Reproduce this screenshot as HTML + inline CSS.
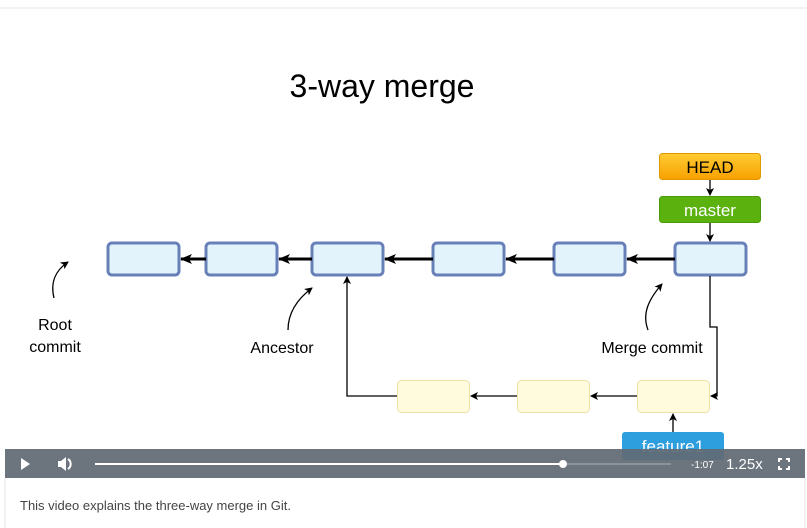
<!DOCTYPE html>
<html><head><style>
body{margin:0;width:807px;height:528px;background:#fff;font-family:"Liberation Sans",sans-serif;overflow:hidden;position:relative}
.cap{position:absolute;left:20px;top:498px;font-size:13px;color:#444;font-family:"Liberation Sans",sans-serif}
</style></head><body>
<svg width="807" height="528" style="position:absolute;left:0;top:0">
<defs>
<marker id="a" markerWidth="8" markerHeight="8" refX="7" refY="4" orient="auto" markerUnits="userSpaceOnUse"><path d="M0,0 L8,4 L0,8 L2,4z" fill="#000"/></marker>
<marker id="b" markerWidth="12" markerHeight="10" refX="11" refY="5" orient="auto" markerUnits="userSpaceOnUse"><path d="M0,0 L12,5 L0,10 L3,5z" fill="#000"/></marker>
<linearGradient id="h" x1="0" y1="0" x2="0" y2="1"><stop offset="0" stop-color="#ffcc33"/><stop offset="1" stop-color="#f7a000"/></linearGradient>
</defs>
<line x1="0" y1="8" x2="807" y2="8" stroke="#e6e6e6"/>
<line x1="5" y1="478" x2="5" y2="528" stroke="#e6e6e6"/>
<line x1="805" y1="478" x2="805" y2="528" stroke="#e6e6e6"/>
<text x="382" y="97" font-size="32" text-anchor="middle" fill="#000">3-way merge</text>
<g fill="#e3f3fc" stroke="#6880b8" stroke-width="3">
<rect x="108" y="243" width="71" height="32" rx="4"/>
<rect x="206" y="243" width="71" height="32" rx="4"/>
<rect x="312" y="243" width="71" height="32" rx="4"/>
<rect x="433" y="243" width="71" height="32" rx="4"/>
<rect x="554" y="243" width="71" height="32" rx="4"/>
<rect x="675" y="243" width="71" height="32" rx="4"/>
</g>
<g stroke="#000" stroke-width="3" marker-end="url(#b)">
<line x1="206" y1="259" x2="181" y2="259"/>
<line x1="312" y1="259" x2="279" y2="259"/>
<line x1="433" y1="259" x2="385" y2="259"/>
<line x1="554" y1="259" x2="506" y2="259"/>
<line x1="675" y1="259" x2="627" y2="259"/>
</g>
<g fill="#fffbdc" stroke="#ece2a8" stroke-width="1">
<rect x="397.5" y="380.5" width="72" height="32" rx="4"/>
<rect x="517.5" y="380.5" width="72" height="32" rx="4"/>
<rect x="637.5" y="380.5" width="72" height="32" rx="4"/>
</g>
<g stroke="#000" stroke-width="1.3" fill="none" marker-end="url(#a)">
<line x1="637" y1="396" x2="591" y2="396"/>
<line x1="517" y1="396" x2="471" y2="396"/>
<polyline points="397,396 347,396 347,277"/>
<polyline points="710,276 710,327 717,327 717,396 711,396"/>
<line x1="673" y1="432" x2="673" y2="414"/>
<line x1="710" y1="180" x2="710" y2="195"/>
<line x1="710" y1="223" x2="710" y2="241"/>
<path d="M54,298 C50,282 56,270 68,262"/>
<path d="M288,330 C288,314 296,300 312,288"/>
<path d="M648,330 C642,314 648,300 662,284"/>
</g>
<rect x="659.5" y="153.5" width="101" height="26" rx="3" fill="url(#h)" stroke="#e09800"/>
<text x="710" y="173" font-size="17" text-anchor="middle">HEAD</text>
<rect x="659.5" y="196.5" width="101" height="26" rx="3" fill="#5bb20f" stroke="#4a9a0a"/>
<text x="710" y="216" font-size="17" text-anchor="middle" fill="#fff">master</text>
<rect x="622" y="432" width="102" height="28" rx="3" fill="#2d9fdf"/>
<text x="673" y="452" font-size="17" text-anchor="middle" fill="#fff">feature1</text>
<g font-size="16" text-anchor="middle" fill="#000">
<text x="55" y="330">Root</text><text x="55" y="352">commit</text>
<text x="282" y="353">Ancestor</text>
<text x="652" y="353">Merge commit</text>
</g>
<rect x="5" y="449" width="800" height="29" fill="#616a74" fill-opacity="0.93"/>
<path d="M21,458 L30,464 L21,470z" fill="#fff"/>
<path d="M58,461 h3 l5,-4 v14 l-5,-4 h-3z" fill="#fff"/><path d="M68,459 a6,6 0 0 1 0,10" stroke="#fff" stroke-width="2" fill="none"/>
<rect x="95" y="463" width="468" height="2" fill="#fff"/>
<rect x="563" y="463" width="108" height="2" fill="#8a939c"/>
<circle cx="563" cy="464" r="4" fill="#fff"/>
<text x="691" y="468" font-size="10" fill="#fff">-1:07</text>
<text x="726" y="469" font-size="15" fill="#fff">1.25x</text>
<g stroke="#fff" stroke-width="2" fill="none"><path d="M779,462v-3h3M786,459h3v3M789,466v3h-3M782,469h-3v-3"/></g>
</svg>
<div class="cap">This video explains the three-way merge in Git.</div>
</body></html>
